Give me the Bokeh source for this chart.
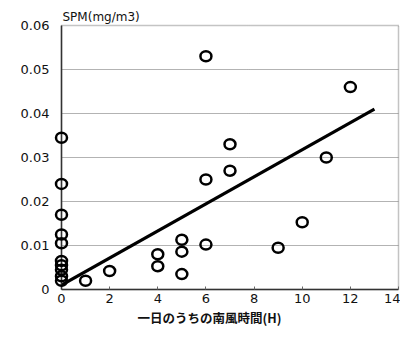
from bokeh.plotting import figure
from bokeh.models import Title, Range1d, FixedTicker
from bokeh.embed import file_html
from bokeh.resources import INLINE

# data
hours = [0, 0, 0, 0, 0, 0, 0, 0, 0, 0,
         1, 2, 4, 4, 5, 5, 5, 6, 6, 6, 7, 7, 9, 10, 11, 12]
spm = [0.0345, 0.024, 0.017, 0.0125, 0.0105, 0.0065, 0.0055, 0.0045, 0.003, 0.002,
       0.002, 0.0042, 0.008, 0.0053, 0.0113, 0.0086, 0.0035, 0.053, 0.025, 0.0102,
       0.033, 0.027, 0.0095, 0.0153, 0.030, 0.046]
trend_x = [0, 13]
trend_y = [0.001, 0.041]
x_ticks = [0, 2, 4, 6, 8, 10, 12, 14]
y_ticks = [0, 0.01, 0.02, 0.03, 0.04, 0.05, 0.06]
y_tick_labels = {0: "0", 0.01: "0.01", 0.02: "0.02", 0.03: "0.03",
                 0.04: "0.04", 0.05: "0.05", 0.06: "0.06"}
y_title = "SPM(mg/m3)"
x_title = "一日のうちの南風時間(H)"

p = figure(width=400, height=326, output_backend="svg", toolbar_location=None,
           x_range=Range1d(0, 14), y_range=Range1d(0, 0.06),
           min_border_left=61, min_border_right=2, min_border_top=25, min_border_bottom=34)
p.background_fill_color = "white"
p.border_fill_color = "white"
p.outline_line_color = "#888888"
p.outline_line_dash = "1 1"
p.outline_line_width = 1.5

p.xgrid.visible = False
p.ygrid.ticker = FixedTicker(ticks=y_ticks)
p.ygrid.grid_line_color = "#666666"
p.ygrid.grid_line_dash = "1 1"
p.ygrid.grid_line_width = 1

for ax in (p.xaxis[0], p.yaxis[0]):
    ax.axis_line_color = "#333333"
    ax.axis_line_width = 1.5
    ax.minor_tick_line_color = None
    ax.major_label_text_font = "DejaVu Sans"
    ax.major_label_text_font_size = "13px"
    ax.major_label_text_color = "#111111"
    ax.major_label_text_line_height = 1.0

p.xaxis.ticker = FixedTicker(ticks=x_ticks)
p.xaxis.major_tick_in = 3
p.xaxis.major_tick_out = 0
p.xaxis.major_tick_line_color = "#666666"
p.xaxis.major_label_standoff = 4

p.yaxis.ticker = FixedTicker(ticks=y_ticks)
p.yaxis.major_label_overrides = y_tick_labels
p.yaxis.major_tick_in = 0
p.yaxis.major_tick_out = 0
p.yaxis.major_label_standoff = 12

p.line(trend_x, trend_y, line_color="black", line_width=3.2)
p.ellipse(hours, spm, width=11, height=10, width_units="screen", height_units="screen",
          fill_color=None, line_color="black", line_width=2.5, level="overlay")

p.add_layout(Title(text=y_title, align="left", offset=1, standoff=3,
                   text_font="DejaVu Sans", text_font_size="12px",
                   text_font_style="normal", text_color="#111111",
                   text_line_height=1.0), "above")
p.add_layout(Title(text=x_title, align="left", offset=76, standoff=0,
                   text_font="Noto Sans CJK JP", text_font_size="12.5px",
                   text_font_style="bold", text_color="#111111",
                   text_line_height=1.0), "below")

open("out.html", "w").write(file_html(p, INLINE))
